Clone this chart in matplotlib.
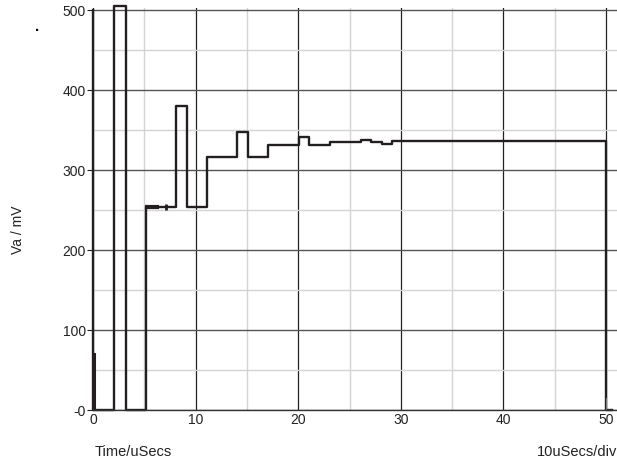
import numpy as np
import matplotlib
matplotlib.use('Agg')
from matplotlib import pyplot as plt
from matplotlib.ticker import MultipleLocator

plt.rcParams['font.family'] = ['Liberation Sans', 'DejaVu Sans']

# step trace: level holds from t[i] to t[i+1]
t_edges = [0, 0, 2.05, 3.2, 5.17, 8.1, 9.16, 11.1, 14.0, 15.1, 17.1, 20.1,
           21.05, 23.1, 26.1, 27.1, 28.2, 29.1, 50.0, 50.6]
v_levels = [500, 0, 505, 0, 254, 381, 254, 317, 348, 317, 332, 341,
            331, 335, 338, 335, 333, 337, 0, 0]

# small glitches near start and end
glitch_t = [0.12, 0.12]
glitch_v = [0, 70]
end_t = [49.95, 49.95, 50.6]
end_v = [15, 0, 0]
# thick bits on the 254 level
notch_t = [5.3, 6.2]
notch_v = [254, 254]
tick_t = [7.1]
tick_v = [254]

line_col = '#231f20'

fig = plt.figure(figsize=(6.17, 4.67), dpi=100)
ax = fig.add_axes([93/617, 57/467, 524/617, 402/467])

ax.step(t_edges, v_levels, where='post', color=line_col, lw=1.7, clip_on=False)
ax.plot(glitch_t, glitch_v, color=line_col, lw=2.2)
ax.plot(end_t, end_v, color='#777777', lw=0.8)
ax.plot(notch_t, notch_v, color=line_col, lw=3)
ax.plot(tick_t, tick_v, color=line_col, marker='|', ms=4, mew=2)

ax.set_xlim(0, 51.07)
ax.set_ylim(0, 503)

ax.xaxis.set_major_locator(MultipleLocator(10))
ax.xaxis.set_minor_locator(MultipleLocator(5))
ax.yaxis.set_major_locator(MultipleLocator(100))
ax.yaxis.set_minor_locator(MultipleLocator(50))

ax.grid(which='major', axis='x', color='#222222', lw=0.9)
ax.grid(which='major', axis='y', color='#555555', lw=1.0)
ax.grid(which='minor', color='#d4d4d4', lw=1.0)
ax.set_axisbelow(True)

for s in ['top', 'right', 'left']:
    ax.spines[s].set_visible(False)
ax.spines['bottom'].set_color('#333333')
ax.spines['bottom'].set_linewidth(1.0)

ax.tick_params(axis='y', which='major', length=4, width=0.8, pad=1,
               labelsize=10, colors='#222222')
ax.tick_params(axis='x', which='major', length=0, pad=2,
               labelsize=10, colors='#222222')
ax.tick_params(which='minor', length=0)
ax.set_yticks([0, 100, 200, 300, 400, 500])
ax.set_yticklabels(['-0', '100', '200', '300', '400', '500'])

fig.text(18/617, 1 - 230/467, 'Va / mV', rotation=90, ha='center', va='center',
         fontsize=10, color='#222222')
fig.text(95/617, 1 - 452/467, 'Time/uSecs', ha='left', va='center',
         fontsize=10.5, color='#222222')
fig.text(617/617, 1 - 452/467, '10uSecs/div', ha='right', va='center',
         fontsize=10.5, color='#222222')
fig.text(37/617, 1 - 27/467, '.', ha='center', va='center', fontsize=11,
         fontweight='bold')

fig.savefig('out.png', dpi=100)
